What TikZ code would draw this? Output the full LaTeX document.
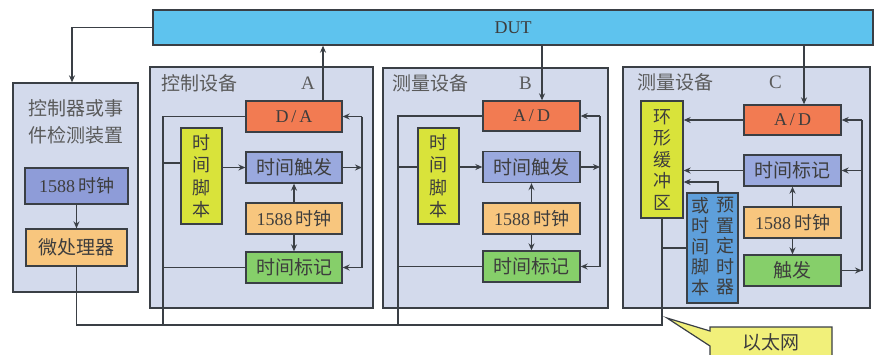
\documentclass[tikz,border=0pt]{standalone}
\usepackage{fontspec}
\setmainfont{Liberation Serif}
\newfontfamily\cjk{Noto Sans CJK SC}
\usetikzlibrary{arrows.meta,calc}
\definecolor{panelC}{HTML}{D3DAEC}
\definecolor{lineC}{HTML}{3A3F45}
\definecolor{dutC}{HTML}{5EC3EE}
\definecolor{redC}{HTML}{F27B52}
\definecolor{periC}{HTML}{9AA9DE}
\definecolor{periL}{HTML}{8E9CD8}
\definecolor{orgC}{HTML}{F8C67E}
\definecolor{grnC}{HTML}{86CF6A}
\definecolor{ylwC}{HTML}{D9E33A}
\definecolor{bluC}{HTML}{5E9FDB}
\definecolor{callC}{HTML}{F1F07A}
\definecolor{txtC}{HTML}{3D3D3D}
\begin{document}
\begin{tikzpicture}[x=1pt,y=-1pt,
  panel/.style={draw=lineC, line width=1.3pt, fill=panelC, inner sep=0pt},
  blk/.style={draw=lineC, line width=1.3pt, inner sep=0pt, text=txtC,
     font=\fontsize{18}{22}\selectfont},
  wide/.style={blk, minimum width=96pt, minimum height=31pt},
  vtxt/.style={blk, align=center, font=\cjk\fontsize{18}{22.5}\selectfont},
  ttl/.style={text=txtC!85, inner sep=0pt, font=\cjk\fontsize{19}{27}\selectfont},
  conn/.style={draw=lineC, line width=1.2pt},
  arr/.style={conn, -{Stealth[length=7pt,width=6pt]}}]
\useasboundingbox (0,0) rectangle (877,354);
% ---------- panels ----------
\node[blk, fill=dutC, minimum width=720pt, minimum height=35pt] (dut) at (513,27.5) {DUT};
\node[panel, minimum width=125pt, minimum height=209pt] (pL) at (75.5,187.5) {};
\node[panel, minimum width=223pt, minimum height=241pt] (pA) at (261.5,187.5) {};
\node[panel, minimum width=225pt, minimum height=240pt] (pB) at (495.5,188) {};
\node[panel, minimum width=247pt, minimum height=241pt] (pC) at (746.5,187.5) {};
% titles
\node[ttl, align=center] (tL) at (75.5,121.5) {控制器或事\\件检测装置};
\node[ttl, anchor=west] (tA) at (161,83) {控制设备};
\node[ttl, anchor=west, font=\fontsize{19}{22}\selectfont] (tAl) at (301,83) {A};
\node[ttl, anchor=west] (tB) at (392,83) {测量设备};
\node[ttl, anchor=west, font=\fontsize{19}{22}\selectfont] (tBl) at (519,83) {B};
\node[ttl, anchor=west] (tC) at (637,82) {测量设备};
\node[ttl, anchor=west, font=\fontsize{19}{22}\selectfont] (tCl) at (769,82) {C};
% ---------- left panel ----------
\node[blk, fill=periL, minimum width=103pt, minimum height=36pt] (clkL) at (76.5,186) {1588\,{\cjk 时钟}};
\node[blk, fill=orgC, minimum width=101pt, minimum height=37pt, font=\cjk\fontsize{19}{22}\selectfont] (mpL) at (76.5,247.5) {微处理器};
% ---------- panel A ----------
\node[wide, fill=redC] (DA) at (294,116.5) {D\,/\,A};
\node[vtxt, fill=ylwC, minimum width=41pt, minimum height=96pt] (scriptA) at (201.5,176) {时\\间\\脚\\本};
\node[wide, fill=periC, font=\cjk\fontsize{19}{22}\selectfont] (trigA) at (294,167.5) {时间触发};
\node[wide, fill=orgC] (clkA) at (294,218.5) {1588\,{\cjk 时钟}};
\node[wide, fill=grnC, font=\cjk\fontsize{19}{22}\selectfont] (tsA) at (294,267.5) {时间标记};
% ---------- panel B ----------
\node[wide, fill=redC, minimum width=97pt, minimum height=30pt] (ADB) at (531.5,116) {A\,/\,D};
\node[vtxt, fill=ylwC, minimum width=41pt, minimum height=96pt] (scriptB) at (438.5,176) {时\\间\\脚\\本};
\node[wide, fill=periC, minimum width=97pt, font=\cjk\fontsize{19}{22}\selectfont] (trigB) at (531.5,167) {时间触发};
\node[wide, fill=orgC, minimum width=97pt] (clkB) at (531.5,218.5) {1588\,{\cjk 时钟}};
\node[wide, fill=grnC, minimum width=97pt, font=\cjk\fontsize{19}{22}\selectfont] (tsB) at (531.5,266.5) {时间标记};
% ---------- panel C ----------
\node[vtxt, fill=ylwC, minimum width=42pt, minimum height=117pt, font=\cjk\fontsize{18}{21.5}\selectfont] (ring) at (662,159.5) {环\\形\\缓\\冲\\区};
\node[wide, fill=redC, minimum width=97pt, minimum height=30pt] (ADC) at (792.5,120) {A\,/\,D};
\node[wide, fill=periC, minimum width=97pt, font=\cjk\fontsize{19}{22}\selectfont] (tsC) at (792.5,170.5) {时间标记};
\node[wide, fill=orgC, minimum width=97pt] (clkC) at (792.5,222.5) {1588\,{\cjk 时钟}};
\node[wide, fill=grnC, minimum width=97pt, font=\cjk\fontsize{19}{22}\selectfont] (trgC) at (792.5,270.5) {触发};
\node[blk, fill=bluC, minimum width=51pt, minimum height=110pt] (preset) at (712.5,248) {};
\node[vtxt, draw=none, fill=none, font=\cjk\fontsize{18}{20.5}\selectfont] (psR) at (725,246.5) {预\\置\\定\\时\\器};
\node[vtxt, draw=none, fill=none, font=\cjk\fontsize{18}{20.5}\selectfont] (psL) at (700,246.5) {或\\时\\间\\脚\\本};
% ---------- helper coordinates ----------
\coordinate (busY) at (0,325);
\coordinate (aL) at (163,325);
\coordinate (aR) at (362,0);
\coordinate (bL) at (398,325);
\coordinate (bR) at (600,0);
\coordinate (cR) at (862,0);
\coordinate (dl) at (72,0);
% ---------- DUT links ----------
\draw[arr] (dut.west) -| (dl |- pL.north);
\coordinate (daUp) at ($(DA.north)+(29,0)$);
\draw[arr] (daUp) -- (daUp |- dut.south);
\coordinate (adbIn) at ($(ADB.north)+(10.5,0)$);
\draw[arr] (adbIn |- dut.south) -- (adbIn);
\coordinate (adcIn) at ($(ADC.north)+(11.5,0)$);
\draw[arr] (adcIn |- dut.south) -- (adcIn);
% ---------- left panel ----------
\draw[arr] (clkL.south) -- (mpL.north);
% ---------- Ethernet bus ----------
\draw[conn] (mpL.south) -- (mpL.south |- busY) -- (ring.south |- busY) -- (ring.south);
% ---------- panel A ----------
\draw[conn] (DA.west) -| (aL);
\coordinate (sA) at ($(scriptA.west)+(0,-13)$);
\draw[conn] (sA) -- (sA -| aL);
\draw[conn] (tsA.west) -- (tsA.west -| aL);
\draw[arr] (scriptA.east |- trigA.west) -- (trigA.west);
\draw[arr] (clkA.north) -- (trigA.south);
\draw[arr] (clkA.south) -- (tsA.north);
\draw[conn] (DA.east -| aR) -- (tsA.east -| aR);
\draw[arr] (DA.east -| aR) -- (DA.east);
\draw[arr] (tsA.east -| aR) -- (tsA.east);
\draw[arr] (trigA.east) -- (trigA.east -| aR);
% ---------- panel B ----------
\draw[conn] (ADB.west) -| (bL);
\draw[conn] (scriptB.west |- trigB.west) -- (trigB.west -| bL);
\draw[conn] (tsB.west) -- (tsB.west -| bL);
\draw[arr] (scriptB.east |- trigB.west) -- (trigB.west);
\draw[arr] (clkB.north) -- (trigB.south);
\draw[arr] (clkB.south) -- (tsB.north);
\draw[conn] (ADB.east -| bR) -- (tsB.east -| bR);
\draw[arr] (ADB.east -| bR) -- (ADB.east);
\draw[arr] (tsB.east -| bR) -- (tsB.east);
\draw[arr] (trigB.east) -- (trigB.east -| bR);
% ---------- panel C ----------
\draw[arr] (ADC.west) -- (ADC.west -| ring.east);
\draw[arr] (tsC.west) -- (tsC.west -| ring.east);
\coordinate (psUp) at ($(preset.north)+(5.5,0)$);
\coordinate (r3) at ($(ring.east)+(0,22.5)$);
\draw[arr] (psUp) |- (r3);
\draw[conn] (preset.west) -- (preset.west -| ring.south);
\draw[arr] (clkC.north) -- (tsC.south);
\draw[arr] (clkC.south) -- (trgC.north);
\draw[conn] (ADC.east -| cR) -- (trgC.east -| cR);
\draw[arr] (ADC.east -| cR) -- (ADC.east);
\draw[arr] (tsC.east -| cR) -- (tsC.east);
\draw[arr] (trgC.east) -- (trgC.east -| cR);
% ---------- callout ----------
\begin{scope}
\clip (0,0) rectangle (877,354);
\draw[draw=lineC, line width=1.2pt, fill=callC] (667,318) -- (710,331) -- (710,327) -- (832,327) -- (832,370) -- (710,370) -- (710,346) -- cycle;
\end{scope}
\node[text=txtC, inner sep=0pt, font=\cjk\fontsize{19}{22}\selectfont] (eth) at (771,342) {以太网};
\end{tikzpicture}
\end{document}
